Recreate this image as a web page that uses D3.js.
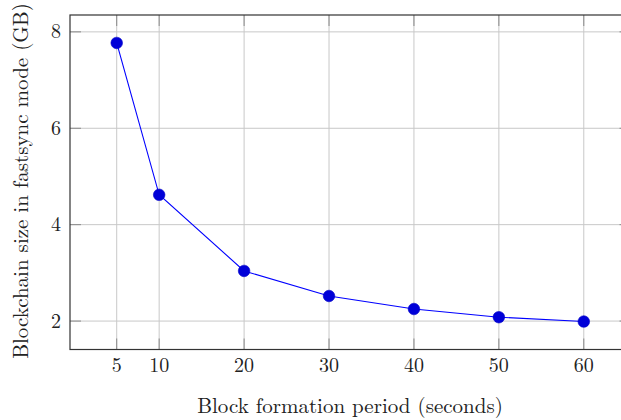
<!DOCTYPE html>
<html>
<head>
<meta charset="utf-8">
<script src="https://cdn.jsdelivr.net/npm/d3@7"></script>
<style>
  body { margin: 0; background: #fff; }
  text { font-family: "Latin Modern Roman", "DejaVu Serif", serif; fill: #222; }
</style>
</head>
<body>
<div id="chart"></div>
<script>
(function() {

  var periods = [5, 10, 20, 30, 40, 50, 60];
  var sizes = [7.77, 4.62, 3.04, 2.52, 2.25, 2.08, 1.99];
  var xTicks = [5, 10, 20, 30, 40, 50, 60];
  var yTicks = [2, 4, 6, 8];

  var width = 621, height = 420;
  var left = 70, top = 15, bottom = 349.5, right = 630.5;

  var svg = d3.select("#chart")
        .append("svg")
        .attr("width", width)
        .attr("height", height);

  var x = d3.scaleLinear().domain([-0.5, 65.5]).range([left, right]);
  var y = d3.scaleLinear().domain([1.41, 8.35]).range([bottom, top]);

  // grid
  svg.selectAll(".gx")
    .data(xTicks)
    .enter().append("line")
    .attr("x1", function(d){ return x(d); })
    .attr("x2", function(d){ return x(d); })
    .attr("y1", top).attr("y2", bottom)
    .attr("stroke", "#c8c8c8").attr("stroke-width", 1);

  svg.selectAll(".gy")
    .data(yTicks)
    .enter().append("line")
    .attr("x1", left).attr("x2", right)
    .attr("y1", function(d){ return y(d); })
    .attr("y2", function(d){ return y(d); })
    .attr("stroke", "#c8c8c8").attr("stroke-width", 1);

  // inner ticks (pgfplots style)
  var tl = 11;
  xTicks.forEach(function(d){
    svg.append("line").attr("x1", x(d)).attr("x2", x(d)).attr("y1", bottom).attr("y2", bottom - tl)
      .attr("stroke", "#8a8a8a");
    svg.append("line").attr("x1", x(d)).attr("x2", x(d)).attr("y1", top).attr("y2", top + tl)
      .attr("stroke", "#8a8a8a");
  });
  yTicks.forEach(function(d){
    svg.append("line").attr("x1", left).attr("x2", left + tl).attr("y1", y(d)).attr("y2", y(d))
      .attr("stroke", "#8a8a8a");
    svg.append("line").attr("x1", right).attr("x2", right - tl).attr("y1", y(d)).attr("y2", y(d))
      .attr("stroke", "#8a8a8a");
  });

  // frame
  svg.append("rect")
    .attr("x", left).attr("y", top)
    .attr("width", right - left).attr("height", bottom - top)
    .attr("fill", "none").attr("stroke", "#333").attr("stroke-width", 1.2);

  // tick labels
  svg.selectAll(".xl")
    .data(xTicks)
    .enter().append("text")
    .attr("x", function(d){ return x(d); })
    .attr("y", 372)
    .attr("text-anchor", "middle")
    .attr("font-size", 20)
    .text(function(d){ return d; });

  svg.selectAll(".yl")
    .data(yTicks)
    .enter().append("text")
    .attr("x", 61)
    .attr("y", function(d){ return y(d) + 6.5; })
    .attr("text-anchor", "end")
    .attr("font-size", 20)
    .text(function(d){ return d; });

  // axis titles
  svg.append("text")
    .attr("x", 350).attr("y", 413)
    .attr("text-anchor", "middle")
    .attr("font-size", 21)
    .text("Block formation period (seconds)");

  svg.append("text")
    .attr("transform", "translate(28,181) rotate(-90)")
    .attr("text-anchor", "middle")
    .attr("font-size", 21)
    .text("Blockchain size in fastsync mode (GB)");

  // series
  var pts = periods.map(function(p, i){ return [p, sizes[i]]; });

  var line = d3.line()
    .x(function(d){ return x(d[0]); })
    .y(function(d){ return y(d[1]); });

  svg.append("path")
    .datum(pts)
    .attr("d", line)
    .attr("fill", "none")
    .attr("stroke", "#0000ff")
    .attr("stroke-width", 1.1);

  svg.selectAll("circle")
    .data(pts)
    .enter().append("circle")
    .attr("cx", function(d){ return x(d[0]); })
    .attr("cy", function(d){ return y(d[1]); })
    .attr("r", 5.8)
    .attr("fill", "#0000d8")
    .attr("stroke", "#0000c8")
    .attr("stroke-width", 0.6);

})();
</script>
</body>
</html>
